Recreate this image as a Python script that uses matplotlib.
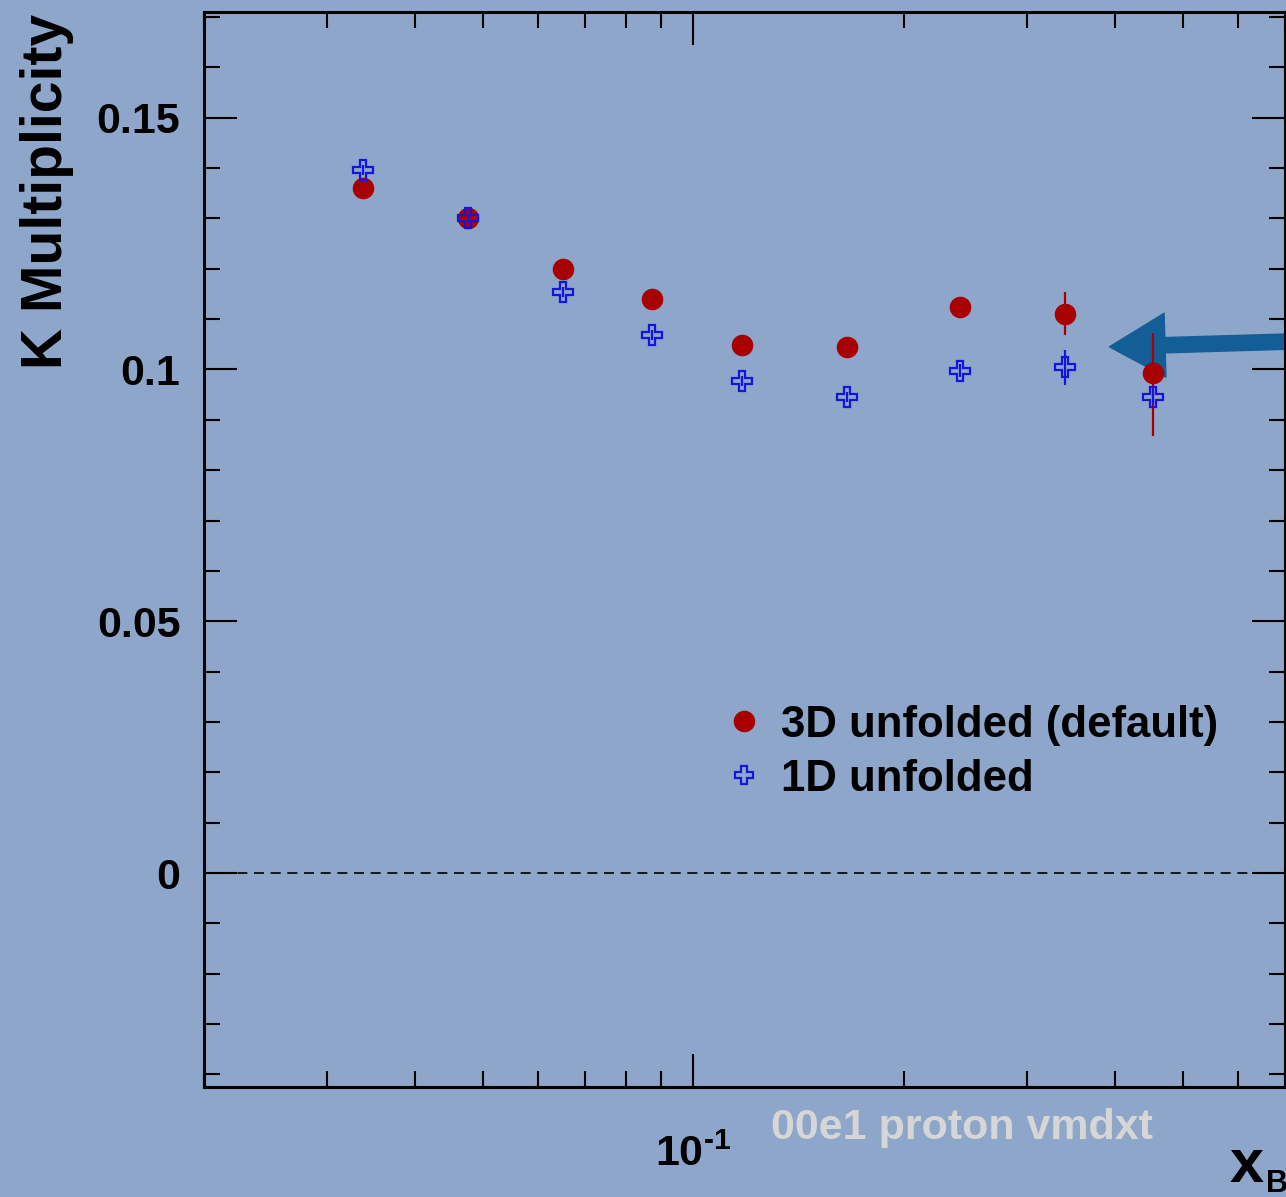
import numpy as np
import matplotlib
matplotlib.use("Agg")
import matplotlib.pyplot as plt
from matplotlib.ticker import MultipleLocator, LogLocator, NullFormatter
from matplotlib.lines import Line2D

plt.rcParams['font.family'] = ['Liberation Sans', 'DejaVu Sans']
plt.rcParams['font.weight'] = 'bold'
plt.rcParams['mathtext.fontset'] = 'custom'
plt.rcParams['mathtext.rm'] = 'Liberation Sans:bold'
plt.rcParams['mathtext.bf'] = 'Liberation Sans:bold'
plt.rcParams['axes.unicode_minus'] = False

# x_B bins (log scale)
x_b = [0.0337, 0.0477, 0.0651, 0.0874, 0.1175, 0.166, 0.2405, 0.340, 0.453]

# 3D unfolded (default)
mult_3d = [0.1361, 0.1301, 0.1200, 0.1140, 0.1048, 0.1044, 0.1124, 0.1111, 0.0994]
err_3d_lo = [0.0012, 0.0012, 0.0012, 0.0012, 0.0012, 0.0012, 0.0014, 0.0043, 0.0127]
err_3d_hi = [0.0012, 0.0012, 0.0012, 0.0012, 0.0012, 0.0012, 0.0014, 0.0043, 0.0078]

# 1D unfolded
mult_1d = [0.1397, 0.1301, 0.1154, 0.1068, 0.0978, 0.0946, 0.0998, 0.1004, 0.0946]
err_1d = [0.0010, 0.0010, 0.0010, 0.0010, 0.0010, 0.0010, 0.0012, 0.0034, 0.0015]

bg = '#8ea6c9'
red = '#a80000'
blue = '#1414e0'

fig = plt.figure(figsize=(12.86, 11.97), dpi=100, facecolor=bg)
ax = fig.add_axes([204/1286, 1 - 1087/1197, 1081/1286, 1075/1197])
ax.set_facecolor(bg)

ax.set_xscale('log')
ax.set_xlim(0.02, 0.70)
ax.set_ylim(-0.0425, 0.171)

ax.axhline(0, color='black', lw=1.2, ls=(0, (6, 4)), zorder=1)

ax.errorbar(x_b, mult_3d, yerr=[err_3d_lo, err_3d_hi], fmt='o', color=red,
            ms=14.5, elinewidth=1.6, capsize=0, zorder=3)
ax.errorbar(x_b, mult_1d, yerr=err_1d, fmt='P', color=blue, mfc='none',
            mec=blue, mew=1.6, ms=15, elinewidth=1.6, capsize=0, zorder=4)

# hand drawn arrow
ax.annotate('', xy=(0.393, 0.1045), xytext=(0.73, 0.1056),
            arrowprops=dict(arrowstyle='simple,head_length=4,head_width=4.6,tail_width=1.1',
                            color='#145e98', mutation_scale=10, shrinkA=0, shrinkB=0),
            annotation_clip=False, zorder=2)

ax.yaxis.set_major_locator(MultipleLocator(0.05))
ax.yaxis.set_minor_locator(MultipleLocator(0.01))
ax.yaxis.set_major_formatter(plt.FuncFormatter(lambda v, p: f'{v:g}' if abs(v) > 1e-9 else '0'))
ax.xaxis.set_major_locator(LogLocator(base=10))
ax.xaxis.set_minor_locator(LogLocator(base=10, subs=np.arange(2, 10)))
ax.xaxis.set_major_formatter(plt.FuncFormatter(
    lambda v, p: '10$^{\\text{%d}}$' % int(round(np.log10(v)))))
ax.xaxis.set_minor_formatter(NullFormatter())

ax.tick_params(which='both', direction='in', top=True, right=True, width=1.5, colors='black')
ax.tick_params(which='major', length=24, labelsize=31, pad=17)
ax.tick_params(which='minor', length=11.5)
ax.tick_params(axis='x', which='major', pad=34)
for s in ax.spines.values():
    s.set_linewidth(2.2)

fig.text(47/1286, 1 - 14/1197, 'K Multiplicity', fontsize=41, fontweight='bold',
         rotation=90, ha='center', va='top')

fig.text(962/1286, 1 - 1128/1197, '00e1 proton vmdxt', color='#d6d6d6',
         fontsize=31, fontweight='bold', ha='center', va='center')
fig.text(1230/1286, 1 - 1166/1197, 'x', fontsize=44, fontweight='bold', ha='left', va='center')
fig.text(1266/1286, 1 - 1184/1197, 'B', fontsize=22, fontweight='bold', ha='left', va='center')

handles = [Line2D([], [], ls='none', marker='o', color=red, ms=14.5),
           Line2D([], [], ls='none', marker='P', mfc='none', mec=blue, mew=1.6, ms=13)]
ax.legend(handles, ['3D unfolded (default)', '1D unfolded'], frameon=False,
          fontsize=31.5, loc='upper left', bbox_to_anchor=(0.467, 0.372),
          handlelength=0.8, handletextpad=0.45, labelspacing=0.3, borderaxespad=0)

fig.savefig('out.png', dpi=100, facecolor=bg)
